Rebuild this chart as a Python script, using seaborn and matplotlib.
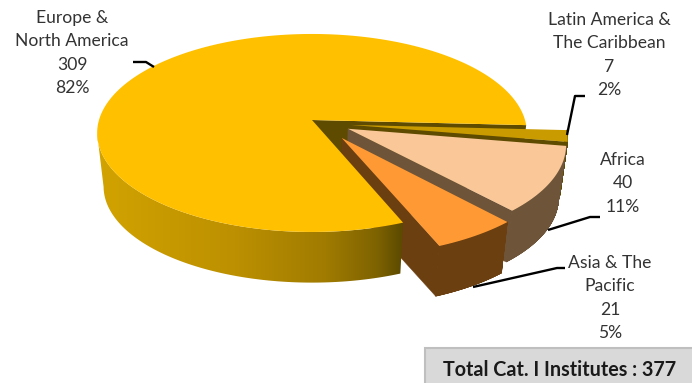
import numpy as np
import matplotlib
matplotlib.use("Agg")
import matplotlib.pyplot as plt
from matplotlib.collections import PolyCollection
from matplotlib.colors import LinearSegmentedColormap
from matplotlib.patches import Polygon, Rectangle
import seaborn as sns

# Institutes per region, clockwise from the start angle
regions = ["Latin America &\nThe Caribbean", "Africa", "Asia & The\nPacific", "Europe &\nNorth America"]
institutes = [7, 40, 21, 309]
shares = ["2%", "11%", "5%", "82%"]
total_text = "Total Cat. I Institutes : 377"

sns.set_theme(style="white")
plt.rcParams["font.family"] = ["Lato", "DejaVu Sans"]

top_colors = sns.color_palette(["#C99B00", "#FAC898", "#FF9933", "#FFC000"])
wall_colors = sns.color_palette(["#5E4B00", "#6E5438", "#6B3F10", "#5E4B00"])
explode = [(0.18, -0.05), (0.167, -0.089), (0.136, -0.18), (0.0, 0.0)]

CX, CY = 312, 120
SX, SY, TILT = 213, 97.3, 0.131
DEPTH, SHRINK = 54, 0.97
START = -3.0


def project(u, v):
    w = 1 + TILT * v
    return SX * u / w, SY * v / w


def to_canvas(x, y, lower=False):
    if lower:
        return CX + x * SHRINK, CY - y * SHRINK + DEPTH
    return CX + x, CY - y


def outline(a0, a1, off):
    a = np.radians(np.linspace(a0, a1, 400))
    px, py = project(np.cos(a) + off[0], np.sin(a) + off[1])
    ox, oy = project(off[0], off[1])
    return (
        np.column_stack(to_canvas(px, py)),
        np.column_stack(to_canvas(px, py, lower=True)),
        np.array(to_canvas(ox, oy)),
        np.array(to_canvas(ox, oy, lower=True)),
    )


def rim_quads(up, low):
    return [np.array([up[k], up[k + 1], low[k + 1], low[k]]) for k in range(len(up) - 1)]


fig, ax = plt.subplots(figsize=(6.92, 3.83), dpi=100)
fig.subplots_adjust(0, 0, 1, 1)
ax.set_axis_off()

wall_ramp = LinearSegmentedColormap.from_list(
    "wall", [(0, "#D2A300"), (0.45, "#BC9000"), (0.75, "#A07B00"), (0.92, "#7D6200"), (1, "#5C4A00")]
)

spans = np.array(institutes) / sum(institutes) * 360
edges = START - np.concatenate([[0], np.cumsum(spans)])

# Exploded slices: the cut wall, the outer wall, then the top face
for i, base in zip([0, 1, 2], [2, 5, 8]):
    up, low, tip_up, tip_low = outline(edges[i], edges[i + 1], explode[i])
    ax.add_patch(Polygon(np.array([tip_up, up[-1], low[-1], tip_low]), closed=True,
                         fc=wall_colors[i], ec=wall_colors[i], lw=0.3, zorder=base))
    ax.add_collection(PolyCollection(rim_quads(up, low), facecolors=wall_colors[i],
                                     edgecolors=wall_colors[i], linewidths=0.4, zorder=base + 1))
    ax.add_patch(Polygon(np.vstack([tip_up, up]), closed=True, fc=top_colors[i], ec="none", zorder=base + 2))

# Main slice: its cut wall sits behind the others, its rim and face in front of their walls
up, low, tip_up, tip_low = outline(edges[3], edges[4], explode[3])
ax.add_patch(Polygon(np.array([tip_up, up[-1], low[-1], tip_low]), closed=True,
                     fc=wall_colors[3], ec="none", zorder=1))

# The rim runs from the cut to the leftmost point of the ellipse, shaded left to right
left = int(np.argmin(up[:, 0])) + 1
rim = np.vstack([up[:left], low[:left][::-1]])
shade = ax.imshow(np.linspace(0, 1, 256)[None, :], cmap=wall_ramp, aspect="auto",
                  extent=(rim[:, 0].min(), rim[:, 0].max(), 383, 0), zorder=11)
shade.set_clip_path(Polygon(rim, closed=True, transform=ax.transData))
ax.add_patch(Polygon(np.vstack([tip_up, up]), closed=True, fc=top_colors[3], ec="none", zorder=12))

# Leader lines from each label to its slice
leaders = [
    [(567, 135), (575, 96), (585, 96)],
    [(548, 230), (590, 217), (600, 217)],
    [(473, 287), (557, 268), (565, 268)],
    [(133, 62), (146, 62), (154, 67)],
]
for pts in leaders:
    xs, ys = zip(*pts)
    ax.plot(xs, ys, color="black", lw=1.7, zorder=40, solid_capstyle="butt")

# Data labels: name, count, share
label_pos = [(609, 20), (623, 160), (610, 263), (72, 18)]
for name, n, pct, (lx, ly) in zip(regions, institutes, shares, label_pos):
    lines = name.split("\n") + [str(n), pct]
    for k, line in enumerate(lines):
        ax.text(lx, ly + k * 23.3, line, ha="center", va="center", fontsize=12.6,
                color="#333333", zorder=50)

ax.add_patch(Rectangle((425, 348), 280, 50, fc="#D9D9D9", ec="#BFBFBF", lw=1.5, zorder=45))
ax.text(560, 370, total_text, ha="center", va="center", fontsize=14.2, fontweight="bold",
        color="#1A1A1A", zorder=50)

ax.set_xlim(0, 692)
ax.set_ylim(383, 0)
fig.savefig("out.png", dpi=100, facecolor="white")
